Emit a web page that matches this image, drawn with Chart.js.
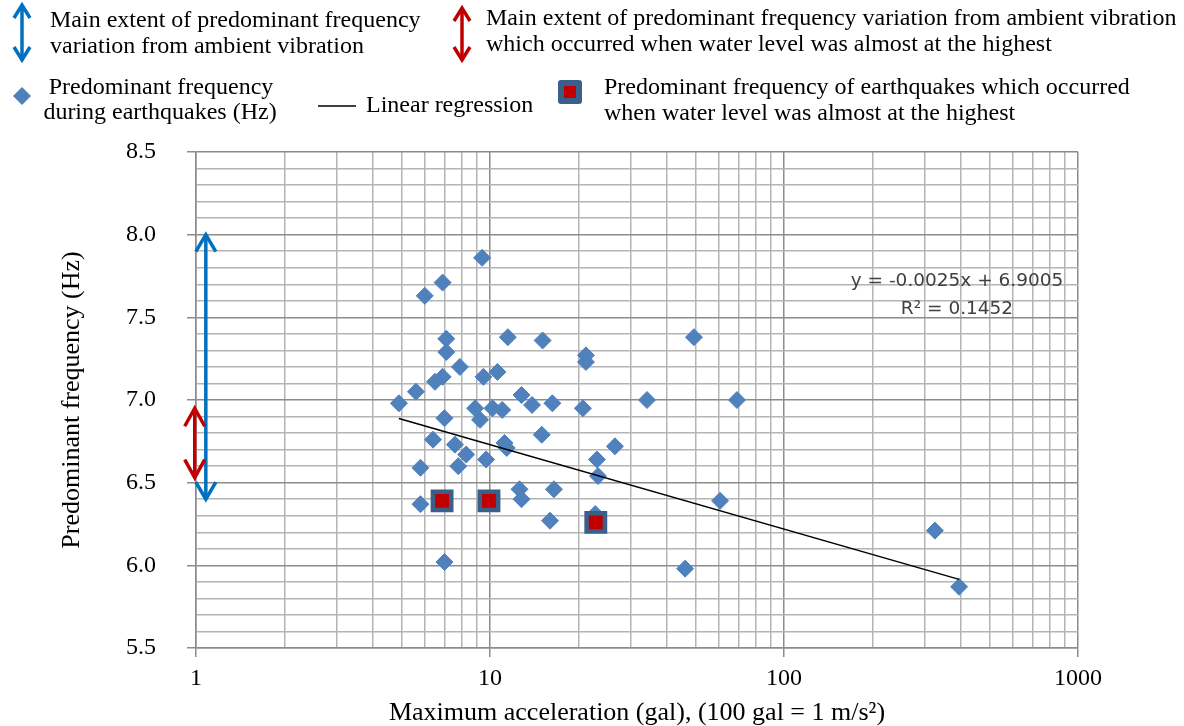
<!DOCTYPE html>
<html><head><meta charset="utf-8">
<script src="https://cdn.jsdelivr.net/npm/chart.js@4.4.1/dist/chart.umd.min.js"></script>
<style>html,body{margin:0;padding:0;background:#fff;}#wrap{position:relative;width:1184px;height:726px;}</style>
</head><body><div id="wrap"><canvas id="c" width="1184" height="726"></canvas></div>
<script>
// ---- data ----
const quakeAccel = [4.9, 5.6, 6.0, 6.9, 9.4, 7.1, 7.1, 7.9, 6.9, 6.5, 11.5, 15.1, 9.5, 10.6, 12.8, 13.9, 16.3, 8.9, 10.2, 11.0,
  9.25, 7.0, 15.0, 6.4, 7.6, 11.2, 11.4, 8.3, 9.7, 5.8, 7.8, 5.8, 12.6, 12.8, 16.5, 16.0, 7.0, 21.2, 21.2, 49.4,
  34.2, 20.7, 69.2, 26.6, 23.1, 23.3, 60.6, 22.8, 46.1, 326, 394];
const quakeFreq = [6.98, 7.05, 7.63, 7.71, 7.86, 7.37, 7.29, 7.20, 7.14, 7.11, 7.38, 7.36, 7.14, 7.17, 7.03, 6.97, 6.98, 6.95, 6.95, 6.94,
  6.88, 6.89, 6.79, 6.76, 6.73, 6.74, 6.71, 6.67, 6.64, 6.59, 6.60, 6.37, 6.46, 6.40, 6.46, 6.27, 6.02, 7.27, 7.23, 7.38,
  7.00, 6.95, 7.00, 6.72, 6.64, 6.54, 6.39, 6.31, 5.98, 6.21, 5.87];
const highWaterAccel = [6.87, 9.92, 22.9];
const highWaterFreq = [6.39, 6.39, 6.26];
const trendAccel = [4.9, 394];
const trendFreq = [6.888, 5.915];
const ambientRange = [6.4, 8.0];
const highWaterAmbientRange = [6.53, 6.95];
const ambientArrowAccel = 1.08;
const highWaterArrowAccel = 0.99;

const xMajorTicks = [1, 10, 100, 1000];
const xTickLabels = ['1', '10', '100', '1000'];
const xGridValues = [1,2,3,4,5,6,7,8,9,10,20,30,40,50,60,70,80,90,100,200,300,400,500,600,700,800,900,1000];
const yMajorTicks = [5.5, 6.0, 6.5, 7.0, 7.5, 8.0, 8.5];
const yTickLabels = ['5.5', '6.0', '6.5', '7.0', '7.5', '8.0', '8.5'];
const yMinorStep = 0.1;

const xTitle = 'Maximum acceleration (gal), (100 gal = 1 m/s\u00B2)';
const yTitle = 'Predominant frequency (Hz)';
const eqText = 'y = -0.0025x + 6.9005';
const r2Text = 'R\u00B2 = 0.1452';

// ---- styles ----
const SERIF = 'Liberation Serif';
const BLUE_ARROW = '#0070C0';
const RED_ARROW = '#C00000';
const DIAMOND = '#4F81BD';
const SQ_BORDER = '#3A5F8B';
const GRID_MAJOR = '#8c8c8c';
const GRID_MINOR = '#b4b4b4';

function isXMajor(v){ return xMajorTicks.some(m => Math.abs(m - v) < 1e-9); }
function yMajorIndex(v){ return yMajorTicks.findIndex(m => Math.abs(m - v) < 1e-6); }

function doubleArrow(ctx, px, top, bottom, color, hw, hh, lw){
  ctx.save();
  ctx.strokeStyle = color; ctx.lineWidth = lw; ctx.lineCap = 'butt'; ctx.lineJoin = 'miter';
  ctx.beginPath(); ctx.moveTo(px, top + 1); ctx.lineTo(px, bottom - 1); ctx.stroke();
  ctx.beginPath(); ctx.moveTo(px - hw, top + hh); ctx.lineTo(px, top); ctx.lineTo(px + hw, top + hh); ctx.stroke();
  ctx.beginPath(); ctx.moveTo(px - hw, bottom - hh); ctx.lineTo(px, bottom); ctx.lineTo(px + hw, bottom - hh); ctx.stroke();
  ctx.restore();
}

const overlay = {
  id: 'overlay',
  afterDatasetsDraw(chart){
    const {ctx, scales: {x, y}, chartArea} = chart;
    doubleArrow(ctx, x.getPixelForValue(ambientArrowAccel), y.getPixelForValue(ambientRange[1]), y.getPixelForValue(ambientRange[0]), BLUE_ARROW, 10, 17, 3.5);
    doubleArrow(ctx, x.getPixelForValue(highWaterArrowAccel), y.getPixelForValue(highWaterAmbientRange[1]), y.getPixelForValue(highWaterAmbientRange[0]), RED_ARROW, 10, 18, 3.5);
    ctx.save();
    ctx.fillStyle = '#404040';
    ctx.font = '18.5px "DejaVu Sans"';
    ctx.textAlign = 'center'; ctx.textBaseline = 'middle';
    const cx = chartArea.right - 121;
    ctx.fillText(eqText, cx, chartArea.top + 129);
    ctx.fillText(r2Text, cx, chartArea.top + 157);
    ctx.restore();
  },
  afterDraw(chart){
    const ctx = chart.ctx;
    ctx.save();
    // legend icons
    doubleArrow(ctx, 22, 5, 60, BLUE_ARROW, 8, 13, 3.5);
    doubleArrow(ctx, 462, 8, 60, RED_ARROW, 8, 13, 3.5);
    ctx.fillStyle = DIAMOND;
    ctx.beginPath(); ctx.moveTo(22, 87); ctx.lineTo(31, 96); ctx.lineTo(22, 105); ctx.lineTo(13, 96); ctx.closePath(); ctx.fill();
    ctx.strokeStyle = '#000'; ctx.lineWidth = 1.5;
    ctx.beginPath(); ctx.moveTo(318, 106); ctx.lineTo(356, 106); ctx.stroke();
    ctx.fillStyle = SQ_BORDER;
    ctx.beginPath(); ctx.roundRect(558, 80, 24, 24, 3); ctx.fill();
    ctx.fillStyle = '#C00000';
    ctx.fillRect(564, 86, 12, 12);
    // legend text
    ctx.fillStyle = '#000';
    ctx.font = '24px "' + SERIF + '"';
    ctx.textBaseline = 'middle';
    ctx.textAlign = 'left';
    ctx.fillText('Main extent of predominant frequency', 50, 21);
    ctx.fillText('variation from ambient vibration', 50, 47);
    ctx.fillText('Main extent of predominant frequency variation from ambient vibration', 486, 19);
    ctx.fillText('which occurred when water level was almost at the highest', 486, 45);
    ctx.fillText('Linear regression', 366, 106);
    ctx.fillText('Predominant frequency of earthquakes which occurred', 604, 88);
    ctx.fillText('when water level was almost at the highest', 604, 114);
    ctx.textAlign = 'center';
    ctx.fillText('Predominant frequency', 161, 88);
    ctx.fillText('during earthquakes (Hz)', 160, 113);
    ctx.restore();
  }
};

new Chart(document.getElementById('c'), {
  type: 'scatter',
  data: {
    datasets: [
      {
        label: 'Predominant frequency of earthquakes which occurred when water level was almost at the highest',
        data: highWaterAccel.map((v, i) => ({x: v, y: highWaterFreq[i]})),
        pointStyle: 'rect', pointRadius: 13, backgroundColor: '#C00000', borderColor: SQ_BORDER, borderWidth: 4.5, order: 0
      },
      {
        label: 'Linear regression', type: 'line',
        data: trendAccel.map((v, i) => ({x: v, y: trendFreq[i]})),
        borderColor: '#000', borderWidth: 1.5, pointRadius: 0, fill: false, order: 1
      },
      {
        label: 'Predominant frequency during earthquakes (Hz)',
        data: quakeAccel.map((v, i) => ({x: v, y: quakeFreq[i]})),
        pointStyle: 'rectRot', pointRadius: 8.5, backgroundColor: DIAMOND, borderColor: DIAMOND, borderWidth: 1, order: 2
      }
    ]
  },
  options: {
    responsive: false, animation: false, events: [],
    layout: {padding: {left: 0, top: 152, right: 106, bottom: 0}},
    plugins: {legend: {display: false}, tooltip: {enabled: false}},
    scales: {
      x: {
        type: 'logarithmic', min: 1, max: 1000,
        afterBuildTicks: s => { s.ticks = xGridValues.map(v => ({value: v})); },
        afterFit: s => { s.height = 78; },
        ticks: {
          autoSkip: false, maxRotation: 0, minRotation: 0, padding: 7, color: '#000',
          font: {family: SERIF, size: 24},
          callback: (v) => { const i = xMajorTicks.findIndex(m => Math.abs(m - v) < 1e-9); return i >= 0 ? xTickLabels[i] : ''; }
        },
        grid: {
          color: c => (c.tick && isXMajor(c.tick.value)) ? GRID_MAJOR : GRID_MINOR,
          lineWidth: 1.5, tickLength: 9,
          tickColor: c => (c.tick && isXMajor(c.tick.value)) ? GRID_MAJOR : 'rgba(0,0,0,0)'
        },
        border: {color: GRID_MAJOR, width: 1.5},
        title: {display: true, text: xTitle, color: '#000', font: {family: SERIF, size: 26, lineHeight: 1.0}, padding: {top: 0, bottom: 0}}
      },
      y: {
        min: 5.5, max: 8.5,
        afterBuildTicks: s => {
          const t = [];
          const n = Math.round((yMajorTicks[yMajorTicks.length - 1] - yMajorTicks[0]) / yMinorStep);
          for (let i = 0; i <= n; i++) t.push({value: Math.round((yMajorTicks[0] + i * yMinorStep) * 10) / 10});
          s.ticks = t;
        },
        afterFit: s => { s.width = 196; },
        ticks: {
          autoSkip: false, padding: 31, color: '#000',
          font: {family: SERIF, size: 24},
          callback: (v) => { const i = yMajorIndex(v); return i >= 0 ? yTickLabels[i] : ''; }
        },
        grid: {
          color: c => (c.tick && yMajorIndex(c.tick.value) >= 0) ? GRID_MAJOR : GRID_MINOR,
          lineWidth: 1.5, tickLength: 9,
          tickColor: c => (c.tick && yMajorIndex(c.tick.value) >= 0) ? GRID_MAJOR : 'rgba(0,0,0,0)'
        },
        border: {color: GRID_MAJOR, width: 1.5},
        title: {display: true, text: yTitle, color: '#000', font: {family: SERIF, size: 26, lineHeight: 1.0}, padding: {top: 59, bottom: 0}}
      }
    }
  },
  plugins: [overlay]
});
</script>
</body></html>
